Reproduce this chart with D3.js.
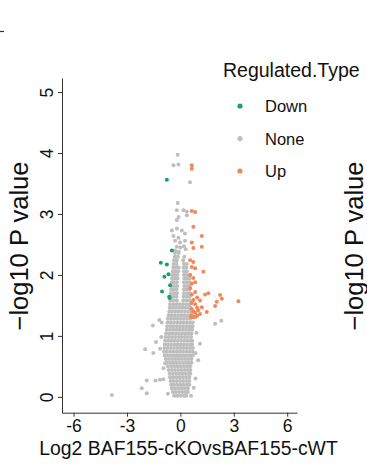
<!DOCTYPE html>
<html>
<head>
<meta charset="utf-8">
<script src="https://cdn.jsdelivr.net/npm/d3@7"></script>
<style>
  body { margin: 0; background: #fff; }
  svg { display: block; font-family: "Liberation Sans", Arial, sans-serif; }
</style>
</head>
<body>
<div id="chart"></div>
<script>
// tick labels + legend
const xTicks = [-6, -3, 0, 3, 6];
const yTicks = [0, 1, 2, 3, 4, 5];
const types = ["Down", "None", "Up"];
const typeColors = ["#1b9e77", "#bebebe", "#f2875a"];

// "None" points, dense core read row by row: [log10p, [log2fc ...]]
const noneRows = [
  [0.02, [-0.35, -0.17, 0.02, 0.2, 0.33]],
  [0.08, [-0.42, -0.25, -0.07, 0.11, 0.29, 0.42]],
  [0.14, [-0.48, -0.3, -0.12, 0.06, 0.24, 0.42]],
  [0.2, [-0.52, -0.36, -0.18, 0, 0.18, 0.36, 0.5]],
  [0.26, [-0.55, -0.38, -0.2, -0.02, 0.16, 0.34, 0.5]],
  [0.32, [-0.58, -0.4, -0.22, -0.04, 0.14, 0.32, 0.5]],
  [0.38, [-0.6, -0.42, -0.24, -0.06, 0.12, 0.3, 0.48, 0.56]],
  [0.44, [-0.66, -0.48, -0.3, -0.12, 0.06, 0.24, 0.42, 0.56]],
  [0.5, [-0.7, -0.52, -0.34, -0.16, 0.02, 0.2, 0.38, 0.55]],
  [0.56, [-0.75, -0.57, -0.39, -0.21, -0.03, 0.15, 0.33, 0.5, 0.62]],
  [0.62, [-0.82, -0.64, -0.46, -0.28, -0.1, 0.08, 0.26, 0.44, 0.62]],
  [0.68, [-0.88, -0.7, -0.52, -0.34, -0.16, 0.02, 0.2, 0.38, 0.56, 0.7]],
  [0.74, [-0.92, -0.76, -0.58, -0.4, -0.22, -0.04, 0.14, 0.32, 0.5, 0.68]],
  [0.8, [-0.9, -0.72, -0.54, -0.36, -0.18, 0, 0.18, 0.36, 0.54, 0.7]],
  [0.86, [-0.88, -0.7, -0.52, -0.34, -0.16, 0.02, 0.2, 0.38, 0.56, 0.66]],
  [0.92, [-0.86, -0.68, -0.5, -0.32, -0.14, 0.04, 0.22, 0.4, 0.58, 0.66]],
  [0.98, [-0.84, -0.66, -0.48, -0.3, -0.12, 0.06, 0.24, 0.42, 0.6]],
  [1.04, [-0.8, -0.62, -0.44, -0.26, -0.08, 0.1, 0.28, 0.46, 0.62]],
  [1.1, [-0.76, -0.58, -0.4, -0.22, -0.04, 0.14, 0.32, 0.5, 0.66]],
  [1.16, [-0.74, -0.56, -0.38, -0.2, -0.02, 0.16, 0.34, 0.52, 0.68]],
  [1.22, [-0.72, -0.54, -0.36, -0.18, 0, 0.18, 0.36, 0.54, 0.7]],
  [1.28, [-0.7, -0.52, -0.34, -0.16, 0.02, 0.2, 0.38, 0.56]],
  [1.34, [-0.66, -0.48, -0.3, -0.12, 0.06, 0.24, 0.42, 0.56]],
  [1.4, [-0.62, -0.46, -0.28, -0.1, 0.08, 0.26, 0.44, 0.56]],
  [1.46, [-0.6, -0.42, -0.24, -0.06, 0.12, 0.3, 0.48, 0.56]],
  [1.52, [-0.58, -0.4, -0.22, -0.04, 0.14, 0.32, 0.5]],
  [1.58, [-0.56, -0.38, -0.2, 0.16, 0.34, 0.52]],
  [1.64, [-0.55, -0.4, -0.22, 0.18, 0.36, 0.52]],
  [1.7, [-0.53, -0.36, -0.2, 0.2, 0.38, 0.54]],
  [1.76, [-0.52, -0.38, -0.22, 0.2, 0.36, 0.5]],
  [1.82, [-0.5, -0.34, -0.18, 0.22, 0.38, 0.52]],
  [1.88, [-0.48, -0.36, -0.2, 0.2, 0.36, 0.5]],
  [1.94, [-0.47, -0.32, -0.16, 0.22, 0.38, 0.52]],
  [2.0, [-0.45, -0.3, -0.16, 0.2, 0.34, 0.5]],
  [2.06, [-0.42, -0.28, -0.12, 0.2, 0.36]],
  [2.12, [-0.4, -0.26, -0.1, 0.18, 0.34]],
  [2.18, [-0.38, -0.22, 0.2, 0.36]],
  [2.24, [-0.36, -0.2, 0.16]],
  [2.3, [-0.32, -0.14, 0.22]],
  [2.36, [-0.3, -0.1]]
];

// "None" points outside the core: [log2fc, log10p]
const noneSparse = [
  [-0.2, 3.06], [0.17, 3.06], [0.36, 3.04], [-0.1, 2.95], [0.36, 2.98], [-0.2, 2.9],
  [-0.48, 2.73], [-0.2, 2.76], [0.08, 2.73], [0.26, 2.68], [-0.39, 2.64], [-0.11, 2.61],
  [-0.3, 2.56], [-0.02, 2.53], [0.26, 2.56], [-0.2, 2.46], [0.0, 2.45], [0.2, 2.47],
  [-0.3, 2.4], [-0.1, 2.38], [0.3, 2.42], [-0.15, 3.18], [0.54, 3.52], [-0.15, 3.97],
  [-0.39, 3.8], [-0.11, 3.81],
  [-3.85, 0.03], [-1.98, 0.78], [-1.89, 0.27], [-2.17, 0.14], [-1.89, 0.06], [-1.4, 0.27],
  [-1.15, 0.28], [-0.96, 0.29], [-1.52, 0.72], [-1.08, 0.98], [-1.55, 1.17], [-1.18, 1.26],
  [-1.05, 1.22], [-1.37, 0.9], [-1.14, 0.79], [-0.86, 0.55], [-0.95, 0.47], [1.1, 0.87],
  [1.0, 0.6], [0.85, 0.3], [0.75, 0.15], [1.95, 1.2], [2.3, 1.25], [0.9, 1.05],
  [0.85, 0.72], [-0.7, 0.05], [0.6, 0.02]
];

const downPts = [
  [-0.76, 3.56], [-0.48, 2.4], [-1.1, 2.2], [-0.76, 2.17], [-0.9, 1.97], [-0.67, 2.01],
  [-0.58, 1.83], [-1.03, 1.73], [-0.63, 1.64], [-0.6, 1.62]
];

const upPts = [
  [0.64, 3.8], [0.64, 3.74], [0.64, 3.05], [0.83, 3.03], [0.73, 2.79], [1.2, 2.64],
  [0.64, 2.53], [0.73, 2.44], [1.2, 2.46],
  [0.55, 2.24], [0.73, 2.21], [0.64, 2.13], [0.83, 2.11], [1.29, 2.05], [0.55, 2.0],
  [0.73, 1.95], [0.64, 1.86], [0.83, 1.88], [0.55, 1.78], [0.83, 1.72],
  [0.64, 1.68], [0.94, 1.63], [0.73, 1.59], [0.64, 1.54], [0.83, 1.52], [0.94, 1.46],
  [0.64, 1.44], [0.73, 1.4], [0.83, 1.38], [0.64, 1.34], [0.73, 1.31], [0.94, 1.33],
  [1.1, 1.36], [0.6, 1.31], [0.83, 1.31], [1.0, 1.42],
  [1.39, 1.68], [1.57, 1.7], [2.23, 1.67], [2.33, 1.61], [2.04, 1.56], [1.95, 1.49],
  [1.48, 1.39], [3.26, 1.57], [1.2, 1.47], [1.1, 1.58]
];

const W = 367, H = 471;
const panel = { left: 62, right: 297, top: 78, bottom: 412.7 };

const svg = d3.select("#chart").append("svg")
  .attr("width", W)
  .attr("height", H);

const x = d3.scaleLinear().domain([-6.65, 6.55]).range([panel.left, panel.right]);
const y = d3.scaleLinear().domain([-0.26, 5.23]).range([panel.bottom, panel.top]);
const color = d3.scaleOrdinal().domain(types).range(typeColors);

// points
const nonePts = noneRows.flatMap(r => r[1].map(v => [v, r[0]])).concat(noneSparse);
const pts = [];
nonePts.forEach(p => pts.push({ fc: p[0], p: p[1], type: "None" }));
downPts.forEach(p => pts.push({ fc: p[0], p: p[1], type: "Down" }));
upPts.forEach(p => pts.push({ fc: p[0], p: p[1], type: "Up" }));

svg.append("g")
  .selectAll("circle")
  .data(pts)
  .enter()
  .append("circle")
  .attr("cx", d => x(d.fc))
  .attr("cy", d => y(d.p))
  .attr("r", 2)
  .style("fill", d => color(d.type));

// axes
const xAxis = svg.append("g")
  .attr("transform", "translate(0," + panel.bottom + ")")
  .call(d3.axisBottom(x).tickValues(xTicks).tickFormat(d => String(d)).tickSize(4).tickSizeOuter(0));
xAxis.selectAll("text").style("font-size", "17.5px").attr("fill", "#111");

const yAxis = svg.append("g")
  .attr("transform", "translate(" + panel.left + ",0)")
  .call(d3.axisLeft(y).tickValues(yTicks).tickFormat(d => String(d)).tickSize(4).tickSizeOuter(0));
yAxis.selectAll("text")
  .style("font-size", "17.5px")
  .attr("fill", "#111")
  .attr("x", 0).attr("y", -9).attr("dy", 0)
  .attr("text-anchor", "middle")
  .attr("transform", "rotate(-90)");

svg.selectAll(".domain, .tick line").attr("stroke", "#333").attr("stroke-width", 1);

// axis titles
svg.append("text")
  .attr("x", (panel.left + panel.right) / 2 + 9)
  .attr("y", 455)
  .attr("text-anchor", "middle")
  .style("font-size", "19.4px")
  .attr("fill", "#111")
  .text("Log2 BAF155-cKOvsBAF155-cWT");

svg.append("text")
  .attr("transform", "translate(28,246) rotate(-90)")
  .attr("text-anchor", "middle")
  .style("font-size", "25.5px")
  .attr("fill", "#111")
  .text("−log10 P value");

// neighbouring panel's title, cut by the edge
svg.append("text")
  .attr("transform", "translate(363,246) rotate(-90)")
  .attr("text-anchor", "middle")
  .style("font-size", "25.5px")
  .attr("fill", "#111")
  .text("−log10 P value");

svg.append("line")
  .attr("x1", 0).attr("x2", 4)
  .attr("y1", 31.5).attr("y2", 31.5)
  .attr("stroke", "#333").attr("stroke-width", 1.2);

// legend
const legend = svg.append("g");
legend.append("text")
  .attr("x", 223).attr("y", 77)
  .style("font-size", "19.5px")
  .attr("fill", "#111")
  .text("Regulated.Type");

const keys = legend.selectAll("g.key")
  .data(types)
  .enter()
  .append("g")
  .attr("class", "key")
  .attr("transform", (d, i) => "translate(240," + (106 + i * 32.5) + ")");
keys.append("circle").attr("r", 2.6).style("fill", d => color(d));
keys.append("text")
  .attr("x", 25).attr("y", 6)
  .style("font-size", "16.5px")
  .attr("fill", "#111")
  .text(d => d);
</script>
</body>
</html>
